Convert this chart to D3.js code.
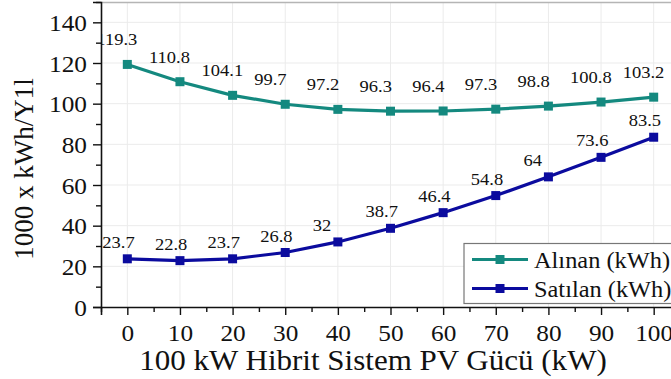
<!DOCTYPE html>
<html>
<head>
<meta charset="utf-8">
<script src="https://cdn.jsdelivr.net/npm/d3@7"></script>
<style>
  body { margin: 0; background: #fff; }
  svg { display: block; }
</style>
</head>
<body>
<div id="chart"></div>
<script>
// values
const pvPower = [0, 10, 20, 30, 40, 50, 60, 70, 80, 90, 100];
const alinan = [119.3, 110.8, 104.1, 99.7, 97.2, 96.3, 96.4, 97.3, 98.8, 100.8, 103.2];
const satilan = [23.7, 22.8, 23.7, 26.8, 32, 38.7, 46.4, 54.8, 64, 73.6, 83.5];
const yTicks = [0, 20, 40, 60, 80, 100, 120, 140];
const yMinor = [10, 30, 50, 70, 90, 110, 130, 150];
const xMinor = [-5, 5, 15, 25, 35, 45, 55, 65, 75, 85, 95, 105];

const series = [
  { name: 'Alınan (kWh)', values: alinan, color: '#14897f', labelDx: -31, labelDy: -19 },
  { name: 'Satılan (kWh)', values: satilan, color: '#0b0b9e', labelDx: -25, labelDy: -11 }
];

const FONT = '"Liberation Serif", "Times New Roman", Times, serif';
const width = 671, height = 379;
const margin = { top: 2, left: 101, bottom: 72, right: -9 };
const innerW = width - margin.left - margin.right;
const innerH = height - margin.top - margin.bottom;

const svg = d3.select('#chart').append('svg')
  .attr('width', width)
  .attr('height', height)
  .style('font-family', FONT);

const x = d3.scaleLinear().domain([-5, 105]).range([margin.left, margin.left + innerW]);
const y = d3.scaleLinear().domain([0, 150]).range([margin.top + innerH, margin.top]);

// text in the picture is a bit wider than the font, stretch it
function addText(g, tx, ty, str, size, sx, anchor) {
  return g.append('text')
    .attr('transform', `translate(${tx},${ty}) scale(${sx},1)`)
    .style('font-family', FONT)
    .attr('font-size', size)
    .attr('text-anchor', anchor || 'start')
    .attr('fill', '#111')
    .text(str);
}

// grid
const grid = svg.append('g');
grid.selectAll('.gx').data(pvPower).enter().append('line')
  .attr('x1', x).attr('x2', x)
  .attr('y1', y(0)).attr('y2', y(150))
  .attr('stroke', '#ebebeb');
grid.selectAll('.gy').data(yTicks.slice(1)).enter().append('line')
  .attr('x1', x(-5)).attr('x2', x(105))
  .attr('y1', y).attr('y2', y)
  .attr('stroke', '#ebebeb');

// frame on top
svg.append('line')
  .attr('x1', x(-5)).attr('x2', x(105))
  .attr('y1', y(150) + 0.5).attr('y2', y(150) + 0.5)
  .attr('stroke', '#b5b5b5').attr('stroke-width', 1.5);

// axes
const xAxisG = svg.append('g')
  .attr('transform', `translate(0,${y(0)})`)
  .call(d3.axisBottom(x).tickValues(pvPower).tickSize(8).tickPadding(4));
svg.append('g')
  .attr('transform', `translate(0,${y(0)})`)
  .call(d3.axisBottom(x).tickValues(xMinor).tickSize(5).tickFormat(''))
  .call(g => g.select('.domain').remove());

const yAxisG = svg.append('g')
  .attr('transform', `translate(${x(-5)},0)`)
  .call(d3.axisLeft(y).tickValues(yTicks).tickSize(8).tickPadding(6));
svg.append('g')
  .attr('transform', `translate(${x(-5)},0)`)
  .call(d3.axisLeft(y).tickValues(yMinor).tickSize(5).tickFormat(''))
  .call(g => g.select('.domain').remove());

svg.selectAll('.domain').attr('stroke', '#111').attr('stroke-width', 1.6);
svg.selectAll('.tick line').attr('stroke', '#111').attr('stroke-width', 1.4);

xAxisG.selectAll('text')
  .style('font-family', FONT)
  .attr('font-size', 23)
  .attr('fill', '#111')
  .attr('dy', null)
  .attr('y', null)
  .attr('transform', 'translate(0,34) scale(1.1,1)');
yAxisG.selectAll('text')
  .style('font-family', FONT)
  .attr('font-size', 23)
  .attr('fill', '#111')
  .attr('dy', null)
  .attr('x', null)
  .attr('transform', 'translate(-14,8) scale(1.1,1)');

// axis titles
addText(svg, 373, 370, '100 kW Hibrit Sistem PV Gücü (kW)', 29, 1.07, 'middle');
svg.append('text')
  .attr('transform', 'translate(33,169) rotate(-90)')
  .style('font-family', FONT)
  .attr('font-size', 27)
  .attr('text-anchor', 'middle')
  .attr('fill', '#111')
  .text('1000 x kWh/Y1l');

// clip for the value labels
svg.append('clipPath').attr('id', 'plotClip')
  .append('rect')
  .attr('x', x(-5) + 1).attr('y', 0)
  .attr('width', innerW).attr('height', y(0));

const line = d3.line()
  .x((d, i) => x(pvPower[i]))
  .y(d => y(d));

const plot = svg.append('g');
series.forEach(s => {
  plot.append('path')
    .attr('d', line(s.values))
    .attr('fill', 'none')
    .attr('stroke', s.color)
    .attr('stroke-width', 3.2);
  plot.selectAll(null).data(s.values).enter().append('rect')
    .attr('x', (d, i) => x(pvPower[i]) - 4.5)
    .attr('y', d => y(d) - 4.5)
    .attr('width', 9).attr('height', 9)
    .attr('fill', s.color);
  const lab = plot.append('g').attr('clip-path', 'url(#plotClip)');
  s.values.forEach((v, i) => {
    addText(lab, x(pvPower[i]) + s.labelDx, y(v) + s.labelDy, String(v), 17, 1.09, 'start');
  });
});

// legend
const legend = svg.append('g').attr('transform', 'translate(464,243.5)');
legend.append('rect')
  .attr('width', 240).attr('height', 60)
  .attr('fill', '#fff')
  .attr('stroke', '#777').attr('stroke-width', 1.2);
series.forEach((s, i) => {
  const ly = 16 + i * 29;
  legend.append('line')
    .attr('x1', 8).attr('x2', 64)
    .attr('y1', ly).attr('y2', ly)
    .attr('stroke', s.color).attr('stroke-width', 3.2);
  legend.append('rect')
    .attr('x', 36 - 4.5).attr('y', ly - 4.5)
    .attr('width', 9).attr('height', 9)
    .attr('fill', s.color);
  addText(legend, 70, ly + 8, s.name, 23, 1.06, 'start');
});
</script>
</body>
</html>
